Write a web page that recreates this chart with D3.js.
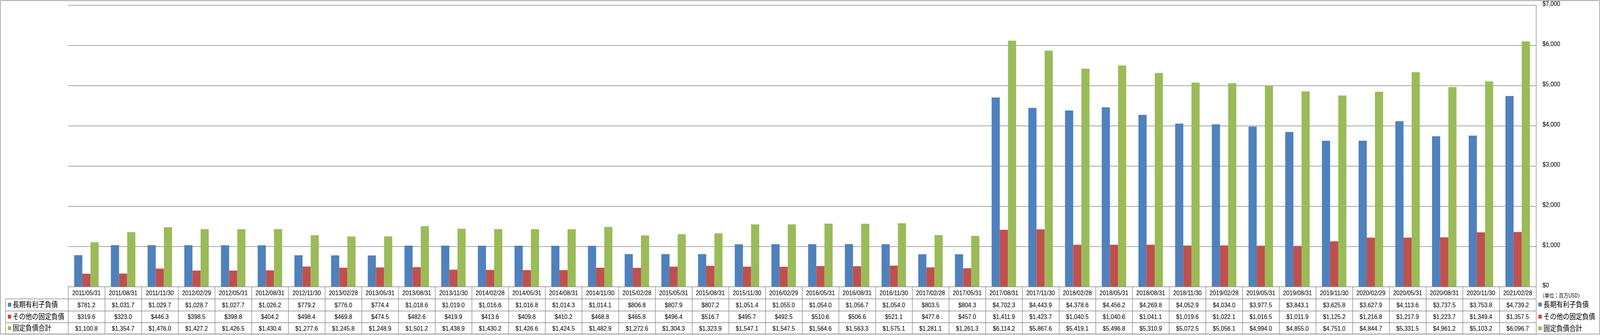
<!DOCTYPE html>
<html>
<head>
<meta charset="utf-8">
<script src="https://cdn.jsdelivr.net/npm/d3@7"></script>
<style>
  html, body { margin: 0; padding: 0; background: #fff; overflow: hidden; }
  svg { display: block; width: 100vw; height: 100vh; }
  .num { font-family: "Liberation Sans", Arial, sans-serif; font-size: 17px; fill: #000; }
  .jp { font-family: "Noto Sans CJK JP", sans-serif; fill: #000; }
</style>
</head>
<body>
<div id="chart_area"></div>
<script>
// categories (quarter ends)
var categories = ["2011/05/31","2011/08/31","2011/11/30","2012/02/29","2012/05/31","2012/08/31","2012/11/30","2013/02/28","2013/05/31","2013/08/31","2013/11/30","2014/02/28","2014/05/31","2014/08/31","2014/11/30","2015/02/28","2015/05/31","2015/08/31","2015/11/30","2016/02/29","2016/05/31","2016/08/31","2016/11/30","2017/02/28","2017/05/31","2017/08/31","2017/11/30","2018/02/28","2018/05/31","2018/08/31","2018/11/30","2019/02/28","2019/05/31","2019/08/31","2019/11/30","2020/02/29","2020/05/31","2020/08/31","2020/11/30","2021/02/28"];

var seriesNames = ["長期有利子負債", "その他の固定負債", "固定負債合計"];
var seriesColors = ["#4F81BD", "#C0504D", "#9BBB59"];

var longTermDebt = [781.2,1031.7,1029.7,1028.7,1027.7,1026.2,779.2,776.0,774.4,1018.6,1019.0,1016.6,1016.8,1014.3,1014.1,806.8,807.9,807.2,1051.4,1055.0,1054.0,1056.7,1054.0,803.5,804.3,4702.3,4443.9,4378.6,4456.2,4269.8,4052.9,4034.0,3977.5,3843.1,3625.8,3627.9,4113.6,3737.5,3753.8,4739.2];
var otherFixed = [319.6,323.0,446.3,398.5,398.8,404.2,498.4,469.8,474.5,482.6,419.9,413.6,409.8,410.2,468.8,465.8,496.4,516.7,495.7,492.5,510.6,506.6,521.1,477.6,457.0,1411.9,1423.7,1040.5,1040.6,1041.1,1019.6,1022.1,1016.5,1011.9,1125.2,1216.8,1217.9,1223.7,1349.4,1357.5];
var totalFixed = [1100.8,1354.7,1476.0,1427.2,1426.5,1430.4,1277.6,1245.8,1248.9,1501.2,1438.9,1430.2,1426.6,1424.5,1482.9,1272.6,1304.3,1323.9,1547.1,1547.5,1564.6,1563.3,1575.1,1281.1,1261.3,6114.2,5867.6,5419.1,5496.8,5310.9,5072.5,5056.1,4994.0,4855.0,4751.0,4844.7,5331.5,4961.2,5103.2,6096.7];

var yTicks = [0, 1000, 2000, 3000, 4000, 5000, 6000, 7000];
var unitLabel = "（単位：百万USD）";

var values = [longTermDebt, otherFixed, totalFixed];

var W = 4701, H = 858;
var plot = { left: 200, right: 4513, top: 13, bottom: 734 };
var rowH = [31, 31, 30, 29]; // header + 3 rows
var gridColor = "#868686";

// scale to whatever window we get
var svg = d3.select("#chart_area")
    .append("svg")
    .attr("viewBox", "0 0 " + W + " " + H)
    .attr("preserveAspectRatio", "none");

// outer border
svg.append("rect")
    .attr("x", 1.5).attr("y", 1.5)
    .attr("width", W - 3).attr("height", H - 4)
    .attr("fill", "none")
    .attr("stroke", gridColor)
    .attr("stroke-width", 1.5);

var x0 = d3.scaleBand()
    .domain(categories)
    .range([plot.left, plot.right]);

var x1 = d3.scaleBand()
    .domain(d3.range(seriesNames.length))
    .range([0, x0.bandwidth()])
    .paddingOuter(0.75);

var y = d3.scaleLinear()
    .domain([0, 7000])
    .range([plot.bottom, plot.top]);

// gridlines
svg.append("g")
    .selectAll("line")
    .data(yTicks.filter(function (d) { return d > 0; }))
    .enter()
    .append("line")
    .attr("x1", plot.left)
    .attr("x2", plot.right)
    .attr("y1", function (d) { return y(d) + 0.5; })
    .attr("y2", function (d) { return y(d) + 0.5; })
    .attr("stroke", gridColor)
    .attr("stroke-width", 1.5);

// bars
var groups = svg.append("g")
    .selectAll("g")
    .data(categories)
    .enter()
    .append("g")
    .attr("transform", function (d) { return "translate(" + x0(d) + ",0)"; });

groups.selectAll("rect")
    .data(function (d, i) { return values.map(function (v, s) { return { s: s, v: v[i] }; }); })
    .enter()
    .append("rect")
    .attr("x", function (d) { return x1(d.s); })
    .attr("width", x1.bandwidth())
    .attr("y", function (d) { return y(d.v); })
    .attr("height", function (d) { return y(0) - y(d.v); })
    .attr("fill", function (d) { return seriesColors[d.s]; });

// right axis
var axis = svg.append("g")
    .attr("transform", "translate(" + plot.right + ",0)")
    .call(d3.axisRight(y).tickValues(yTicks).tickSize(0).tickPadding(19)
        .tickFormat(function (d) { return "$" + d3.format(",")(d); }));
axis.select(".domain").remove();
axis.attr("font-family", null).attr("font-size", null);
axis.selectAll("text")
    .attr("class", "num")
    .attr("dy", "0.1em");

// value axis line
svg.append("line")
    .attr("x1", plot.right + 0.5).attr("x2", plot.right + 0.5)
    .attr("y1", plot.top).attr("y2", plot.bottom)
    .attr("stroke", gridColor).attr("stroke-width", 1.5);

// data table
var tTop = plot.bottom;
var rowY = [tTop];
rowH.forEach(function (h) { rowY.push(rowY[rowY.length - 1] + h); });
var legendLeft = 16;
var table = svg.append("g");

function hline(x1p, x2p, yp) {
    table.append("line").attr("x1", x1p).attr("x2", x2p).attr("y1", yp + 0.5).attr("y2", yp + 0.5)
        .attr("stroke", gridColor).attr("stroke-width", 1.5);
}
function vline(xp, y1p, y2p) {
    table.append("line").attr("x1", xp + 0.5).attr("x2", xp + 0.5).attr("y1", y1p).attr("y2", y2p)
        .attr("stroke", gridColor).attr("stroke-width", 1.5);
}

hline(plot.left, plot.right, rowY[0]);
for (var r = 1; r < rowY.length; r++) hline(legendLeft, plot.right, rowY[r]);
vline(plot.left, rowY[0], rowY[4]);
vline(legendLeft, rowY[1], rowY[4]);
categories.forEach(function (c) { vline(x0(c) + x0.bandwidth(), rowY[0], rowY[4]); });

// header row
table.selectAll("text.hdr")
    .data(categories)
    .enter()
    .append("text")
    .attr("class", "num")
    .attr("x", function (d) { return x0(d) + x0.bandwidth() / 2; })
    .attr("y", (rowY[0] + rowY[1]) / 2)
    .attr("dy", "0.36em")
    .attr("text-anchor", "middle")
    .text(function (d) { return d; });

var fmt = d3.format(",.1f");
values.forEach(function (v, s) {
    var cy = (rowY[s + 1] + rowY[s + 2]) / 2;
    table.append("g").selectAll("text")
        .data(v)
        .enter()
        .append("text")
        .attr("class", "num")
        .attr("x", function (d, i) { return x0(categories[i]) + x0.bandwidth() / 2; })
        .attr("y", cy)
        .attr("dy", "0.36em")
        .attr("text-anchor", "middle")
        .text(function (d) { return "$" + fmt(d); });

    // legend key in table
    table.append("rect")
        .attr("x", legendLeft + 7).attr("y", cy - 5)
        .attr("width", 10).attr("height", 10)
        .attr("fill", seriesColors[s]);
    table.append("text")
        .attr("class", "jp")
        .attr("x", legendLeft + 21).attr("y", cy)
        .attr("dy", "0.36em")
        .style("font-size", "19px")
        .text(seriesNames[s]);

    // right legend
    var ly = [780, 811, 841][s];
    svg.append("rect")
        .attr("x", 4520).attr("y", ly - 5)
        .attr("width", 10).attr("height", 10)
        .attr("fill", seriesColors[s]);
    svg.append("text")
        .attr("class", "jp")
        .attr("x", 4535).attr("y", ly)
        .attr("dy", "0.36em")
        .style("font-size", "19px")
        .text(seriesNames[s]);
});

svg.append("text")
    .attr("class", "jp")
    .attr("x", 4524).attr("y", 757)
    .attr("dy", "0.36em")
    .style("font-size", "14px")
    .text(unitLabel);
</script>
</body>
</html>
